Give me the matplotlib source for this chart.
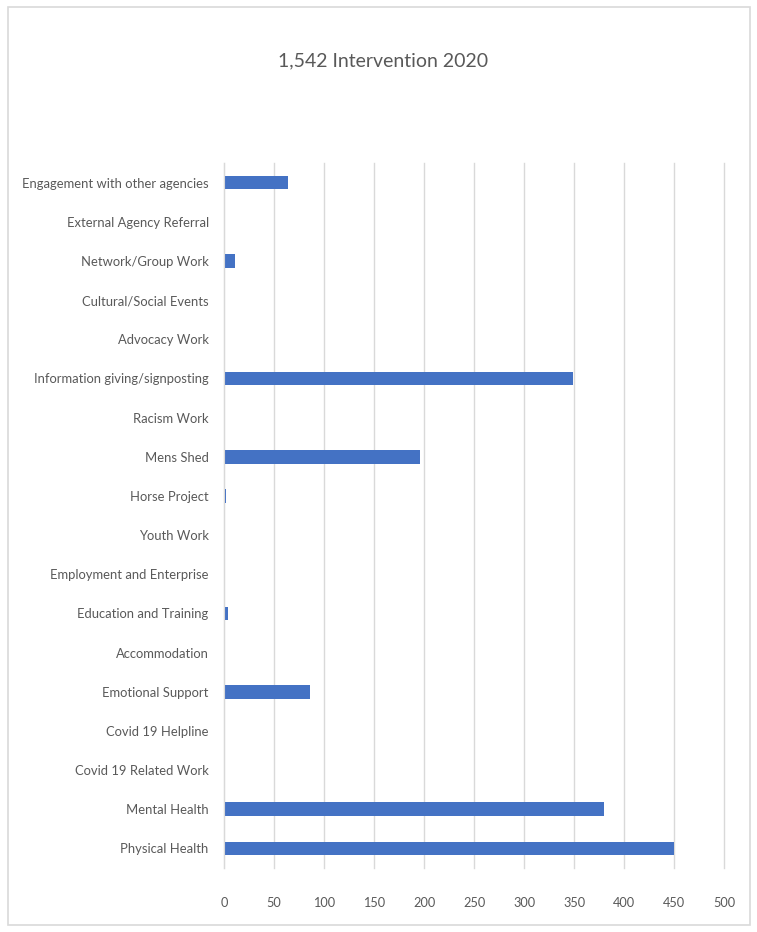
import matplotlib
matplotlib.use("Agg")
import matplotlib.pyplot as plt
from matplotlib.patches import Rectangle

categories = [
    "Physical Health", "Mental Health", "Covid 19 Related Work", "Covid 19 Helpline",
    "Emotional Support", "Accommodation", "Education and Training", "Employment and Enterprise",
    "Youth Work", "Horse Project", "Mens Shed", "Racism Work",
    "Information giving/signposting", "Advocacy Work", "Cultural/Social Events",
    "Network/Group Work", "External Agency Referral", "Engagement with other agencies",
]
values = [450, 380, 0, 0, 86, 0, 4, 0, 0, 2, 196, 0, 349, 0, 0, 11, 0, 64]
xticks = [0, 50, 100, 150, 200, 250, 300, 350, 400, 450, 500]
title = "1,542 Intervention 2020"

plt.rcParams['font.family'] = ['Lato', 'DejaVu Sans']
txt = '#595959'

fig = plt.figure(figsize=(7.57, 9.32), dpi=100)
W, H = 757, 932
renderer = fig.canvas.get_renderer()


def fit_size(s, target_px, start=12.0):
    t = fig.text(0, 0, s, fontsize=start)
    w = t.get_window_extent(renderer).width
    t.remove()
    return start * target_px / w


lab_fs = fit_size("Engagement with other agencies", 186)
tick_fs = fit_size("500", 22)
title_fs = fit_size(title, 210)

fig.patches.append(Rectangle((8 / W, 1 - 925 / H), (750 - 8) / W, (925 - 7) / H,
                             transform=fig.transFigure, fill=False,
                             edgecolor='#d9d9d9', linewidth=1.2))

ax = fig.add_axes([224 / W, (H - 868) / H, 500 / W, 705 / H])
y = list(range(len(categories)))
ax.barh(y, values, height=0.35, color='#4472C4', zorder=3)
ax.set_xlim(0, 500)
ax.set_ylim(-0.5, len(categories) - 0.5)
ax.set_yticks(y)
ax.set_yticklabels(categories, fontsize=lab_fs, color=txt)
ax.set_xticks(xticks)
ax.set_xticklabels([str(t) for t in xticks], fontsize=tick_fs, color=txt)
ax.tick_params(axis='both', length=0)
ax.tick_params(axis='y', pad=11)
ax.tick_params(axis='x', pad=21)
ax.grid(axis='x', color='#d9d9d9', linewidth=1, zorder=0)
for gl in ax.get_xgridlines():
    gl.set_clip_on(False)
for s in ['top', 'right', 'bottom']:
    ax.spines[s].set_visible(False)
ax.spines['left'].set_color('#d9d9d9')
ax.spines['left'].set_zorder(4)

fig.text(383 / W, 1 - 61 / H, title, ha='center', va='center', fontsize=title_fs, color=txt)

fig.savefig('out.png', dpi=100)
